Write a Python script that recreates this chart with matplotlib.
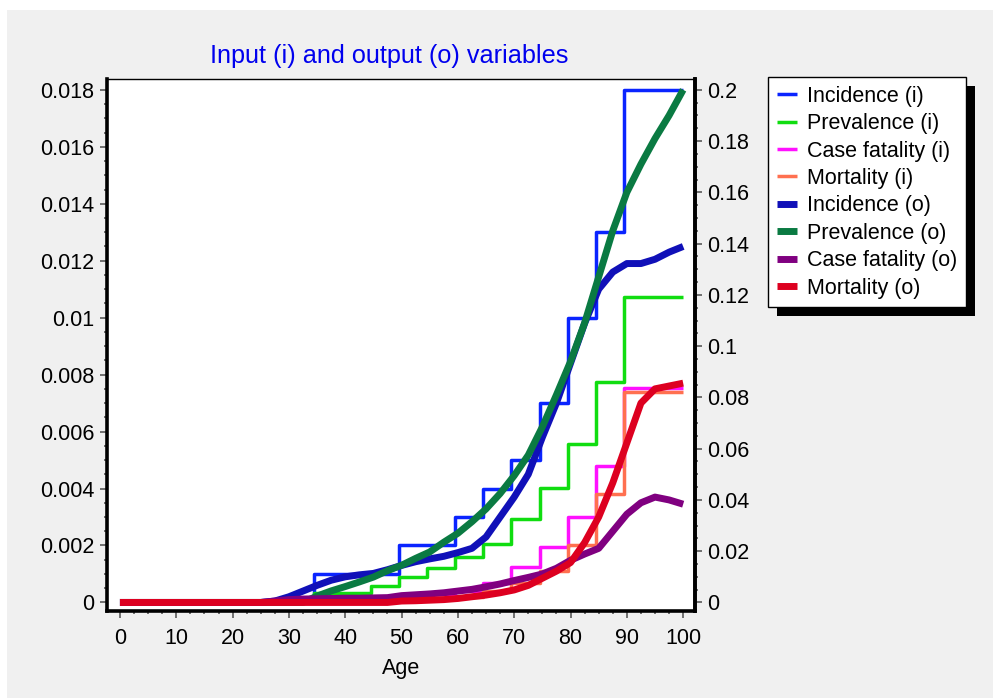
import numpy as np
import matplotlib
matplotlib.use("Agg")
import matplotlib.pyplot as plt
from matplotlib.ticker import MultipleLocator, FuncFormatter
from matplotlib.patches import Rectangle

plt.rcParams['font.family'] = ['Liberation Sans', 'DejaVu Sans']

# input variables: one value per 5-year age band (0, 5, ..., 100)
inc_i = [0, 0, 0, 0, 0, 0, 0, 0.001, 0.001, 0.001, 0.002, 0.002, 0.003, 0.004,
         0.005, 0.007, 0.010, 0.013, 0.018, 0.018, 0.018]
prev_i = [0, 0, 0, 0, 0, 0, 0, 0.0035, 0.0035, 0.0066, 0.0098, 0.0133, 0.0176,
          0.023, 0.0324, 0.0445, 0.062, 0.086, 0.119, 0.119, 0.119]   # right axis
cf_i = [0, 0, 0, 0, 0, 0, 0, 0.00005, 0.0001, 0.00015, 0.0002, 0.0003, 0.0004,
        0.0007, 0.00123, 0.00193, 0.003, 0.0048, 0.00752, 0.00752, 0.00752]
mort_i = [0, 0, 0, 0, 0, 0, 0, 0.00002, 0.00003, 0.00005, 0.0001, 0.00015, 0.0002,
          0.0004, 0.0007, 0.0011, 0.002, 0.0038, 0.0074, 0.0074, 0.0074]

# output variables, every 2.5 years of age
ages_o = np.arange(0, 100.1, 2.5)
inc_o = [0] * 11 + [0.00005, 0.0002, 0.0004, 0.0006, 0.00078, 0.0009, 0.00097, 0.00102,
                    0.00115, 0.0013, 0.00143, 0.00153, 0.00162, 0.00175, 0.0019, 0.0023,
                    0.003, 0.0037, 0.0045, 0.0058, 0.007, 0.0084, 0.0098, 0.011, 0.0116,
                    0.0119, 0.0119, 0.01205, 0.0123, 0.0125]
prev_o = [0] * 14 + [0.0025, 0.0045, 0.0062, 0.008, 0.0099, 0.0124, 0.0145, 0.0172,
                     0.0197, 0.0235, 0.027, 0.0315, 0.0365, 0.0425, 0.0495, 0.0575,
                     0.0685, 0.081, 0.094, 0.109, 0.127, 0.145, 0.160, 0.171, 0.181,
                     0.19, 0.2]   # right axis
cf_o = [0] * 11 + [0.00005, 0.0001, 0.00012, 0.00013, 0.00014, 0.00015, 0.00015, 0.00016,
                   0.00017, 0.00024, 0.00027, 0.0003, 0.00034, 0.0004, 0.00046, 0.00055,
                   0.00065, 0.00077, 0.00088, 0.001, 0.0012, 0.00148, 0.0017, 0.0019,
                   0.0025, 0.0031, 0.0035, 0.0037, 0.0036, 0.00345]
mort_o = [0] * 20 + [0.00005, 0.00006, 0.00008, 0.0001, 0.00014, 0.0002, 0.00026, 0.00034,
                     0.00044, 0.0006, 0.00085, 0.0011, 0.0014, 0.0021, 0.003, 0.0042,
                     0.0056, 0.007, 0.0075, 0.0076, 0.0077]

labels = ['Incidence (i)', 'Prevalence (i)', 'Case fatality (i)', 'Mortality (i)',
          'Incidence (o)', 'Prevalence (o)', 'Case fatality (o)', 'Mortality (o)']
colors = ['#0a24ff', '#10dd10', '#ff10ff', '#ff7050',
          '#1010b8', '#0a7a42', '#800080', '#dd0020']

left_max, right_max = 0.018, 0.2
k = right_max / left_max

ages_i = np.arange(0, 101)
band = ages_i // 5

fig = plt.figure(figsize=(9.93, 6.98), dpi=100)
fig.patch.set_facecolor('white')
fig.patches.append(Rectangle((7 / 993, 0), 1, 1 - 10 / 698, transform=fig.transFigure,
                             facecolor='#f0f0f0', edgecolor='none', zorder=-10))

ax = fig.add_axes([107 / 993, 1 - 611 / 698, (695 - 107) / 993, (611 - 79) / 698])
ax.set_facecolor('white')

inputs = [inc_i, np.array(prev_i) / k, cf_i, mort_i]
for vals, lab, col in zip(inputs, labels[:4], colors[:4]):
    ax.plot(ages_i, np.array(vals)[band], drawstyle='steps-mid', color=col, lw=2.5,
            label=lab, solid_capstyle='butt')

outputs = [inc_o, np.array(prev_o) / k, cf_o, mort_o]
for vals, lab, col in zip(outputs, labels[4:], colors[4:]):
    ax.plot(ages_o, vals, color=col, lw=5, label=lab, solid_capstyle='butt',
            solid_joinstyle='round')

ax.set_xlim(-2.3, 102.1)
ax.set_ylim(-0.0003, 0.01838)

fmt = FuncFormatter(lambda v, p: f'{round(v, 6) + 0.0:g}')
ax.xaxis.set_major_locator(MultipleLocator(10))
ax.xaxis.set_minor_locator(MultipleLocator(2.5))
ax.yaxis.set_major_locator(MultipleLocator(0.002))
ax.yaxis.set_minor_locator(MultipleLocator(0.0005))
ax.yaxis.set_major_formatter(fmt)

sec = ax.secondary_yaxis('right', functions=(lambda y: y * k, lambda y: y / k))
sec.yaxis.set_major_locator(MultipleLocator(0.02))
sec.yaxis.set_minor_locator(MultipleLocator(0.005))
sec.yaxis.set_major_formatter(fmt)

for a in (ax, sec):
    a.tick_params(which='major', direction='out', length=5, width=1.4, color='#707070',
                  labelsize=15.5, pad=4)
    a.tick_params(which='minor', direction='out', length=2.5, width=1.4, color='#707070')
ax.tick_params(axis='x', pad=7)

for s in ('left', 'bottom', 'right'):
    ax.spines[s].set_linewidth(2.6)
ax.spines['top'].set_linewidth(1.0)
sec.spines['right'].set_linewidth(2.6)

ax.set_xlabel('Age', fontsize=15.5, labelpad=7)

fig.text(389 / 993, 1 - 63 / 698, 'Input (i) and output (o) variables', color='#0000ee',
         fontsize=18.2, ha='center', va='baseline')

leg = fig.legend(loc='upper left', bbox_to_anchor=(768 / 993, 1 - 77 / 698),
                 borderaxespad=0, fontsize=15.5, frameon=True, fancybox=False,
                 edgecolor='black', framealpha=1, handlelength=0.93, handletextpad=0.47,
                 labelspacing=0.30, borderpad=0.40)
leg.get_frame().set_linewidth(1.0)
leg.set_zorder(5)

fig.canvas.draw()
bb = leg.get_window_extent()
fig.patches.append(Rectangle(((bb.x0 + 9) / 993, (bb.y0 - 9) / 698), bb.width / 993,
                             bb.height / 698, transform=fig.transFigure,
                             facecolor='black', edgecolor='none', zorder=4))

fig.savefig('out.png', dpi=100, facecolor=fig.get_facecolor())
